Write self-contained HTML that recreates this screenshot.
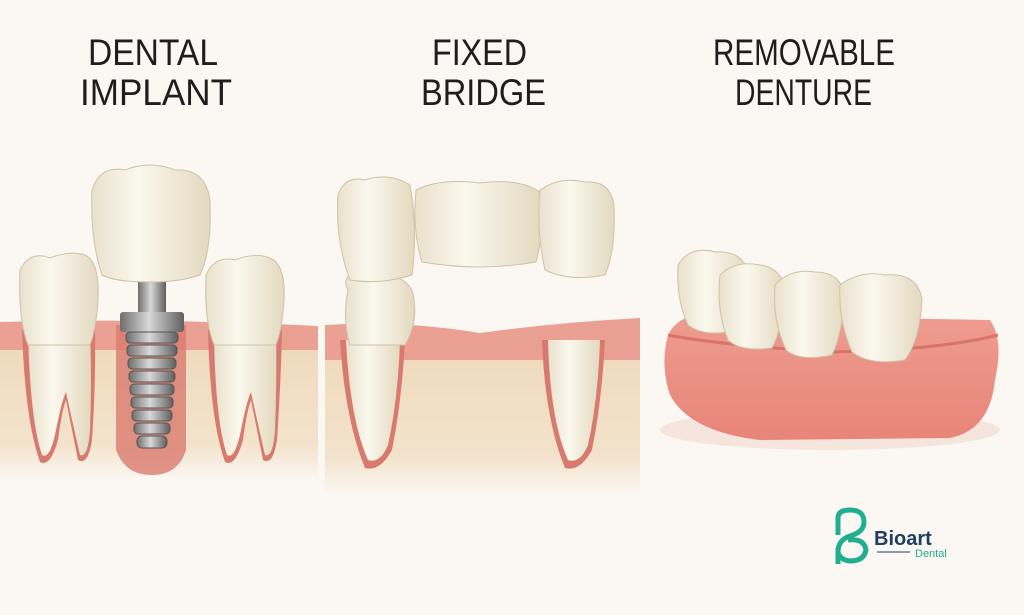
<!DOCTYPE html>
<html><head><meta charset="utf-8"><style>
html,body{margin:0;padding:0;background:#fbf8f3;}
svg{display:block}
text{font-family:"Liberation Sans",sans-serif;}
</style></head><body>
<svg width="1024" height="615" viewBox="0 0 1024 615">
<defs>
<linearGradient id="bone" x1="0" y1="0" x2="0" y2="1">
<stop offset="0" stop-color="#efd9bb"/><stop offset="0.75" stop-color="#f3e3cc"/><stop offset="1" stop-color="#fbf8f3"/>
</linearGradient>
<linearGradient id="tooth" x1="0" y1="0" x2="1" y2="0">
<stop offset="0" stop-color="#e9e1cc"/><stop offset="0.4" stop-color="#fbf8ee"/><stop offset="1" stop-color="#e3d9bf"/>
</linearGradient>
<linearGradient id="metal" x1="0" y1="0" x2="1" y2="0">
<stop offset="0" stop-color="#6e6e6e"/><stop offset="0.45" stop-color="#d8d8d8"/><stop offset="1" stop-color="#5f5f5f"/>
</linearGradient>
<linearGradient id="gumd" x1="0" y1="0" x2="0" y2="1">
<stop offset="0" stop-color="#ef9c90"/><stop offset="1" stop-color="#e88579"/>
</linearGradient>
</defs>
<rect width="1024" height="615" fill="#fbf8f3"/>
<g fill="#1e1e1e" font-size="37" lengthAdjust="spacingAndGlyphs">
<text x="88" y="65" textLength="130" lengthAdjust="spacingAndGlyphs">DENTAL</text>
<text x="80" y="105" textLength="152" lengthAdjust="spacingAndGlyphs">IMPLANT</text>
<text x="432" y="65" textLength="95" lengthAdjust="spacingAndGlyphs">FIXED</text>
<text x="421" y="105" textLength="125" lengthAdjust="spacingAndGlyphs">BRIDGE</text>
<text x="713" y="65" textLength="182" lengthAdjust="spacingAndGlyphs">REMOVABLE</text>
<text x="735" y="105" textLength="137" lengthAdjust="spacingAndGlyphs">DENTURE</text>
</g>
<!-- Panel 1 -->
<rect x="0" y="340" width="318" height="140" fill="url(#bone)"/>
<path d="M0 322 Q160 318 318 326 L318 350 L0 350Z" fill="#eaa093"/>
<path d="M22 330 Q25 420 40 462 Q50 468 58 440 Q62 410 66 400 Q70 420 78 460 Q88 466 92 440 Q96 380 95 330Z" fill="#d97a6e"/>
<path d="M28 330 Q30 420 42 455 Q50 460 56 430 Q62 400 66 392 Q72 420 80 455 Q88 458 90 430 Q92 380 90 330Z" fill="url(#tooth)"/>
<path d="M20 270 Q30 250 50 258 Q70 250 85 255 Q100 262 98 300 Q96 330 90 345 L28 345 Q18 320 20 270Z" fill="url(#tooth)" stroke="#cfc3a6"/>
<path d="M208 330 Q210 420 225 462 Q235 468 243 440 Q247 410 251 400 Q255 420 263 460 Q273 466 277 440 Q281 380 282 330Z" fill="#d97a6e"/>
<path d="M214 330 Q215 420 227 455 Q235 460 241 430 Q247 400 251 392 Q257 420 265 455 Q273 458 275 430 Q277 380 276 330Z" fill="url(#tooth)"/>
<path d="M206 275 Q215 255 235 260 Q255 252 270 258 Q286 265 284 300 Q282 330 276 345 L214 345 Q204 320 206 275Z" fill="url(#tooth)" stroke="#cfc3a6"/>
<path d="M116 325 L116 450 Q125 475 152 475 Q178 475 186 450 L186 325Z" fill="#d97a6e" opacity="0.8"/>
<rect x="138" y="275" width="28" height="40" fill="url(#metal)"/>
<rect x="120" y="312" width="64" height="20" rx="3" fill="url(#metal)"/>
<g fill="url(#metal)" stroke="#555" stroke-width="1">
<rect x="126" y="332" width="52" height="11" rx="4"/><rect x="127" y="345" width="50" height="11" rx="4"/>
<rect x="128" y="358" width="48" height="11" rx="4"/><rect x="129" y="371" width="46" height="11" rx="4"/>
<rect x="130" y="384" width="44" height="11" rx="4"/><rect x="131" y="397" width="42" height="11" rx="4"/>
<rect x="132" y="410" width="40" height="11" rx="4"/><rect x="134" y="423" width="36" height="11" rx="4"/>
<rect x="137" y="436" width="30" height="12" rx="5"/>
</g>
<path d="M92 190 Q100 165 125 170 Q150 160 175 170 Q205 168 210 200 Q212 250 200 275 Q180 282 150 282 Q115 282 102 275 Q90 240 92 190Z" fill="url(#tooth)" stroke="#cfc3a6"/>
<!-- Panel 2 -->
<rect x="325" y="345" width="315" height="150" fill="url(#bone)"/>
<path d="M325 325 Q400 320 480 333 Q560 322 640 318 L640 360 L325 360Z" fill="#eaa093"/>
<path d="M340 340 Q345 420 365 468 Q380 472 392 450 Q402 400 405 340Z" fill="#d97a6e"/>
<path d="M346 340 Q350 420 368 460 Q380 464 388 445 Q398 400 400 340Z" fill="url(#tooth)"/>
<path d="M542 340 Q545 420 565 468 Q580 472 592 450 Q602 400 605 340Z" fill="#d97a6e"/>
<path d="M548 340 Q550 420 568 460 Q580 464 588 445 Q598 400 600 340Z" fill="url(#tooth)"/>
<path d="M348 290 Q340 275 360 272 Q400 270 412 290 Q420 320 405 345 L350 345 Q342 320 348 290Z" fill="url(#tooth)" stroke="#cfc3a6"/>
<path d="M338 195 Q345 175 365 180 Q390 172 410 185 Q418 230 412 275 Q380 285 350 280 Q335 240 338 195Z" fill="url(#tooth)" stroke="#cfc3a6"/>
<path d="M416 190 Q440 178 480 183 Q520 178 540 192 Q545 230 536 262 Q480 272 422 262 Q412 230 416 190Z" fill="url(#tooth)" stroke="#cfc3a6"/>
<path d="M540 190 Q560 176 585 182 Q610 180 614 205 Q616 250 605 275 Q570 282 545 270 Q536 230 540 190Z" fill="url(#tooth)" stroke="#cfc3a6"/>
<!-- Panel 3 -->
<ellipse cx="830" cy="430" rx="170" ry="20" fill="#f3d8cf" opacity="0.6"/>
<path d="M668 335 Q680 310 720 315 L990 320 Q1004 340 995 380 Q990 430 950 438 L760 440 Q690 432 670 395 Q660 365 668 335Z" fill="url(#gumd)"/>
<path d="M668 335 Q720 345 830 352 Q940 350 998 335" fill="none" stroke="#d8756a" stroke-width="3"/>
<path d="M678 265 Q690 245 715 252 Q740 250 748 270 Q748 310 738 330 Q705 338 688 325 Q676 300 678 265Z" fill="url(#tooth)" stroke="#cfc3a6"/>
<path d="M720 275 Q735 260 760 265 Q782 268 785 290 Q782 330 772 348 Q740 352 728 340 Q716 310 720 275Z" fill="url(#tooth)" stroke="#cfc3a6"/>
<path d="M775 285 Q790 268 815 272 Q840 272 845 295 Q842 335 832 355 Q800 362 786 350 Q772 320 775 285Z" fill="url(#tooth)" stroke="#cfc3a6"/>
<path d="M840 285 Q860 270 885 275 Q918 272 922 300 Q920 340 905 360 Q870 366 852 352 Q838 320 840 285Z" fill="url(#tooth)" stroke="#cfc3a6"/>
<!-- Logo -->
<g fill="none" stroke="#1fae8e" stroke-width="5">
<path d="M838 535 L838 518 Q838 510 850 510 Q864 510 864 522 Q864 532 850 536 Q838 540 838 552 Q840 560 850 561 Q864 561 866 550 Q864 538 848 540"/>
<path d="M838 548 L838 564"/>
</g>
<text x="874" y="545" font-size="20" font-weight="bold" fill="#1f3e64">Bioart</text>
<line x1="877" y1="552" x2="910" y2="552" stroke="#1f3e64" stroke-width="1"/>
<text x="915" y="557" font-size="11" fill="#1fae8e">Dental</text>
</svg>
</body></html>
